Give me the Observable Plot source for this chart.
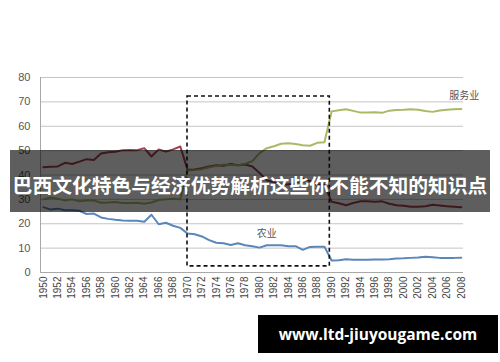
<!DOCTYPE html>
<html>
<head>
<meta charset="utf-8">
<script src="https://cdn.jsdelivr.net/npm/d3@7"></script>
<script src="https://cdn.jsdelivr.net/npm/@observablehq/plot@0.6"></script>
<style>
  html, body { margin: 0; padding: 0; background: #fff; }
  #wrap { position: relative; width: 500px; height: 362px; overflow: hidden; }
  #banner { position: absolute; left: 10px; top: 150px; width: 480px; height: 62px;
    background: rgba(0,0,0,0.63); }
  #title { position: absolute; left: 0; top: 172px; width: 500px; text-align: center;
    color: #fff; font-family: "Noto Sans CJK SC", sans-serif; font-weight: 700;
    font-size: 19.8px; line-height: 26px; white-space: nowrap; letter-spacing: 0px; }
  #url { position: absolute; left: 258px; top: 315px; width: 240px; height: 38px;
    background: #000; color: #fff; font-family: "Open Sans", "DejaVu Sans", sans-serif;
    font-weight: 700; font-size: 15.5px; line-height: 38px; text-align: center; }
</style>
</head>
<body>
<div id="wrap">
  <div id="chart"></div>
  <div id="banner"></div>
  <div id="title">巴西文化特色与经济优势解析这些你不能不知的知识点</div>
  <div id="url">www.ltd-jiuyougame.com</div>
</div>
<script>
const years = d3.range(1950, 2009);
const agriculture = [26.8,25.8,26.2,25.5,25.5,25.3,24.0,24.2,22.6,22.0,21.6,21.3,21.2,21.2,20.8,23.7,19.8,20.4,19.2,18.3,
  16.0,15.7,14.8,13.3,12.2,12.0,11.3,12.0,11.2,10.8,10.2,11.2,11.2,11.2,10.8,10.8,9.3,10.5,10.6,10.6,
  4.9,5.0,5.4,5.2,5.2,5.2,5.3,5.3,5.4,5.7,5.8,6.0,6.2,6.5,6.3,6.0,6.0,6.0,6.1];
const industry = [43.2,43.4,43.5,45.0,44.5,45.5,46.5,46.2,48.8,49.3,49.5,50.2,50.3,50.2,51.0,47.6,50.5,49.6,50.5,51.7,
  42.2,42.3,42.8,43.5,44.0,43.8,44.5,44.0,44.3,43.5,40.8,37.8,37.0,36.0,36.2,36.5,38.5,37.5,36.2,36.0,
  29.0,28.4,27.6,28.5,29.2,29.2,29.0,29.2,28.2,27.6,27.4,27.0,27.0,27.2,27.8,27.5,27.2,27.0,26.8];
const services = [30.0,30.8,30.3,29.5,30.0,29.2,29.5,29.6,28.6,28.7,28.9,28.5,28.5,28.6,28.2,28.7,29.7,30.0,30.3,30.0,
  41.8,42.0,42.4,43.2,43.8,44.2,44.2,44.0,44.5,45.7,49.0,51.0,51.8,52.8,53.0,52.7,52.2,52.0,53.2,53.4,
  66.1,66.6,67.0,66.3,65.6,65.6,65.7,65.5,66.4,66.7,66.8,67.0,66.8,66.3,65.9,66.5,66.8,67.0,67.1];
const seriesNames = ["农业", "工业", "服务业"];
const seriesColors = ["#5a86b9", "#a3404e", "#a8ba66"];
const yTicks = [0, 10, 20, 30, 40, 50, 60, 70, 80];
const xTicks = d3.range(1950, 2009, 2);
const labels = [
  {text: "服务业", year: 2008.4, value: 72.4},
  {text: "农业", year: 1981, value: 15.9}
];
const highlight = [{x1: 1970, x2: 1989.75, y1: 2.5, y2: 72.2}];

const rows = [];
[agriculture, industry, services].forEach((arr, i) => {
  arr.forEach((v, j) => rows.push({year: years[j], value: v, series: seriesNames[i]}));
});

const chart = Plot.plot({
  width: 500,
  height: 362,
  marginLeft: 40,
  marginRight: 37,
  marginTop: 77,
  marginBottom: 90,
  style: {fontFamily: "Liberation Sans, Arial, sans-serif", background: "transparent"},
  x: {domain: [1949.6, 2008.3], axis: null},
  y: {domain: [0, 80], axis: null},
  color: {domain: seriesNames, range: seriesColors},
  marks: [
    Plot.ruleY(yTicks.filter(d => d > 0), {stroke: "#c4c4c4", strokeWidth: 1}),
    Plot.ruleY([0], {stroke: "#a8a8a8", strokeWidth: 1}),
    Plot.ruleX([1949.6], {y1: 0, y2: 80, stroke: "#a8a8a8", strokeWidth: 1}),
    Plot.axisY({ticks: yTicks, tickSize: 0, tickPadding: 10, fontSize: 11, color: "#555", label: null}),
    Plot.axisX({ticks: xTicks, tickFormat: d => String(d), tickSize: 0, tickPadding: 4, tickRotate: -90,
      fontSize: 10, color: "#444", label: null}),
    Plot.line(rows, {x: "year", y: "value", z: "series", stroke: "series", strokeWidth: 2}),
    Plot.rect(highlight, {x1: "x1", x2: "x2", y1: "y1", y2: "y2", fill: "none", stroke: "#111",
      strokeWidth: 1.6, strokeDasharray: "4,3"}),
    Plot.text(labels, {x: "year", y: "value", text: "text", fontSize: 10, fill: "#555",
      fontFamily: "Noto Sans CJK SC, sans-serif"})
  ]
});
document.getElementById("chart").appendChild(chart);
</script>
</body>
</html>
